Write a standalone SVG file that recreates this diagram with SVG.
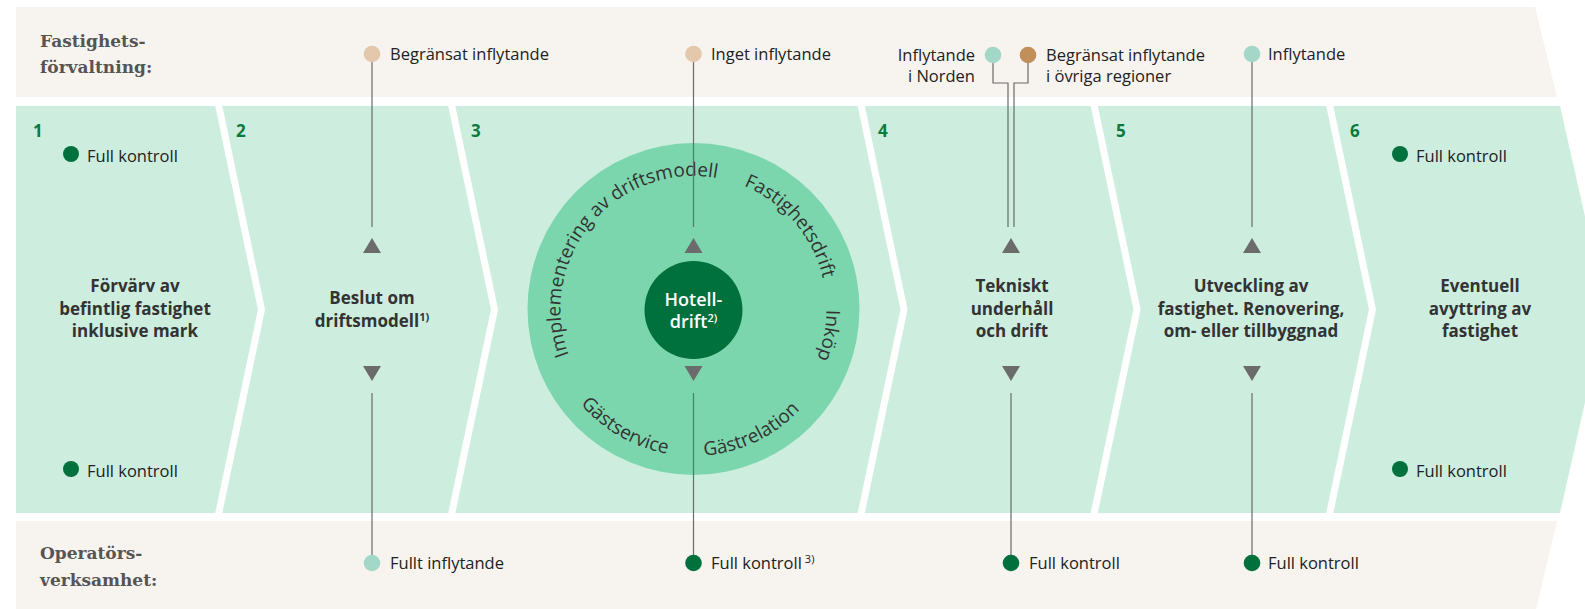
<svg xmlns="http://www.w3.org/2000/svg" width="1585" height="609" viewBox="0 0 1585 609">
<style>
.band{fill:#f7f3ef}
.green{fill:#cdeddf}
.sep{fill:none;stroke:#ffffff;stroke-width:7;stroke-linejoin:miter}
.head{font-family:"DejaVu Serif","Liberation Serif",serif;font-weight:bold;font-size:17px;fill:#555555}
.lbl{font-family:"Open Sans","Noto Sans","Liberation Sans",sans-serif;font-size:16.5px;fill:#222222}
.num{font-family:"Open Sans","Noto Sans","Liberation Sans",sans-serif;font-weight:700;font-size:17px;fill:#0a7a3e}
.step{font-family:"Open Sans","Noto Sans","Liberation Sans",sans-serif;font-weight:700;font-size:17px;fill:#333333;text-anchor:middle}
.ring{font-family:"Open Sans","Noto Sans","Liberation Sans",sans-serif;font-size:19px;fill:#333333}
.hub{font-family:"Open Sans","Noto Sans","Liberation Sans",sans-serif;font-weight:600;font-size:18px;fill:#ffffff;text-anchor:middle}
.sup{font-size:11px}
.line{fill:none;stroke:#6b6b6b;stroke-width:1.2}
.tri{fill:#6b6b6b}
.dg{fill:#00713d}
.bg{fill:#e3c8ac}
.tl{fill:#a3d8c8}
.br{fill:#c08f5a}
</style>
<defs>
<path id="ringTop" d="M569.33,356.66 A133,133 0 0 1 817.67,261.34 A133,133 0 0 1 569.33,356.66"/>
<path id="ringBot" d="M546,309 A147,147 0 0 0 840,309"/>
</defs>

<g id="background">
<polygon class="band" points="16,7 1535,7 1557,97 16,97"/>
<polygon class="band" points="16,521 1557,521 1536,609 16,609"/>
<polygon class="green" points="16,106 1560,106 1606,309.5 1560,513 16,513"/>
<polyline class="sep" points="217.5,100 261.5,309.5 217.5,519"/>
<polyline class="sep" points="450.5,100 494.5,309.5 450.5,519"/>
<polyline class="sep" points="860,100 904,309.5 860,519"/>
<polyline class="sep" points="1093,100 1137,309.5 1093,519"/>
<polyline class="sep" points="1328.5,100 1372.5,309.5 1328.5,519"/>
</g>

<g id="row-labels">
<text class="head" x="40" y="47">Fastighets-</text>
<text class="head" x="40" y="73">förvaltning:</text>
<text class="head" x="40" y="559">Operatörs-</text>
<text class="head" x="40" y="586">verksamhet:</text>
</g>

<g id="step1">
<text class="num" x="33" y="137">1</text>
<circle class="dg" cx="71" cy="154" r="8"/>
<text class="lbl" x="87" y="162">Full kontroll</text>
<text class="step" x="135" y="292">Förvärv av</text>
<text class="step" x="135" y="314.5">befintlig fastighet</text>
<text class="step" x="135" y="337">inklusive mark</text>
<circle class="dg" cx="71" cy="469" r="8"/>
<text class="lbl" x="87" y="477">Full kontroll</text>
</g>

<g id="step2">
<text class="num" x="236" y="137">2</text>
<text class="step" x="372" y="304">Beslut om</text>
<text class="step" x="372" y="326.5">driftsmodell<tspan class="sup" dy="-6">1)</tspan></text>
</g>

<g id="step3">
<text class="num" x="471" y="137">3</text>
<circle cx="693.5" cy="309" r="166" fill="#7bd6ad"/>
<text class="ring"><textPath href="#ringTop" startOffset="2">Implementering av driftsmodell</textPath></text>
<text class="ring"><textPath href="#ringTop" startOffset="309">Fastighetsdrift</textPath></text>
<text class="ring"><textPath href="#ringTop" startOffset="467">Inköp</textPath></text>
<text class="ring"><textPath href="#ringBot" startOffset="103">Gästservice</textPath></text>
<text class="ring"><textPath href="#ringBot" startOffset="242">Gästrelation</textPath></text>
</g>

<g id="step4">
<text class="num" x="878" y="137">4</text>
<text class="step" x="1012" y="292">Tekniskt</text>
<text class="step" x="1012" y="314.5">underhåll</text>
<text class="step" x="1012" y="337">och drift</text>
</g>

<g id="step5">
<text class="num" x="1116" y="137">5</text>
<text class="step" x="1251" y="292">Utveckling av</text>
<text class="step" x="1251" y="314.5">fastighet. Renovering,</text>
<text class="step" x="1251" y="337">om- eller tillbyggnad</text>
</g>

<g id="step6">
<text class="num" x="1350" y="137">6</text>
<circle class="dg" cx="1400" cy="154" r="8"/>
<text class="lbl" x="1416" y="162">Full kontroll</text>
<text class="step" x="1480" y="292">Eventuell</text>
<text class="step" x="1480" y="314.5">avyttring av</text>
<text class="step" x="1480" y="337">fastighet</text>
<circle class="dg" cx="1400" cy="469" r="8"/>
<text class="lbl" x="1416" y="477">Full kontroll</text>
</g>

<g id="connectors">
<line class="line" x1="372" y1="54" x2="372" y2="227"/>
<line class="line" x1="372" y1="393" x2="372" y2="563"/>
<polygon class="tri" points="363,253 381,253 372,238"/>
<polygon class="tri" points="363,366 381,366 372,381"/>
<line class="line" x1="693.5" y1="54" x2="693.5" y2="227"/>
<line class="line" x1="693.5" y1="393" x2="693.5" y2="563"/>
<polygon class="tri" points="684.5,253 702.5,253 693.5,238"/>
<polygon class="tri" points="684.5,366 702.5,366 693.5,381"/>
<polyline class="line" points="993,55 993,83 1008,83 1008,227"/>
<polyline class="line" points="1028,55 1028,83 1014,83 1014,227"/>
<line class="line" x1="1011" y1="393" x2="1011" y2="563"/>
<polygon class="tri" points="1002,253 1020,253 1011,238"/>
<polygon class="tri" points="1002,366 1020,366 1011,381"/>
<line class="line" x1="1252" y1="54" x2="1252" y2="227"/>
<line class="line" x1="1252" y1="393" x2="1252" y2="563"/>
<polygon class="tri" points="1243,253 1261,253 1252,238"/>
<polygon class="tri" points="1243,366 1261,366 1252,381"/>
</g>

<g id="hub">
<circle class="dg" cx="693.5" cy="310" r="49"/>
<text class="hub" x="693.5" y="306">Hotell-</text>
<text class="hub" x="693.5" y="328">drift<tspan class="sup" dy="-6">2)</tspan></text>
</g>

<g id="top-markers">
<circle class="bg" cx="372" cy="54" r="8.3"/>
<text class="lbl" x="390" y="60">Begränsat inflytande</text>
<circle class="bg" cx="693.5" cy="54" r="8.3"/>
<text class="lbl" x="711" y="60">Inget inflytande</text>
<text class="lbl" x="975" y="61" text-anchor="end">Inflytande</text>
<text class="lbl" x="975" y="82" text-anchor="end">i Norden</text>
<circle class="tl" cx="993" cy="55" r="8.3"/>
<circle class="br" cx="1028" cy="55" r="8.3"/>
<text class="lbl" x="1046" y="61">Begränsat inflytande</text>
<text class="lbl" x="1046" y="82">i övriga regioner</text>
<circle class="tl" cx="1252" cy="54" r="8.3"/>
<text class="lbl" x="1268" y="60">Inflytande</text>
</g>

<g id="bottom-markers">
<circle class="tl" cx="372" cy="563" r="8.3"/>
<text class="lbl" x="390" y="569">Fullt inflytande</text>
<circle class="dg" cx="693.5" cy="563" r="8.3"/>
<text class="lbl" x="711" y="569">Full kontroll<tspan class="sup" dx="3" dy="-6">3)</tspan></text>
<circle class="dg" cx="1011" cy="563" r="8.3"/>
<text class="lbl" x="1029" y="569">Full kontroll</text>
<circle class="dg" cx="1252" cy="563" r="8.3"/>
<text class="lbl" x="1268" y="569">Full kontroll</text>
</g>
</svg>
